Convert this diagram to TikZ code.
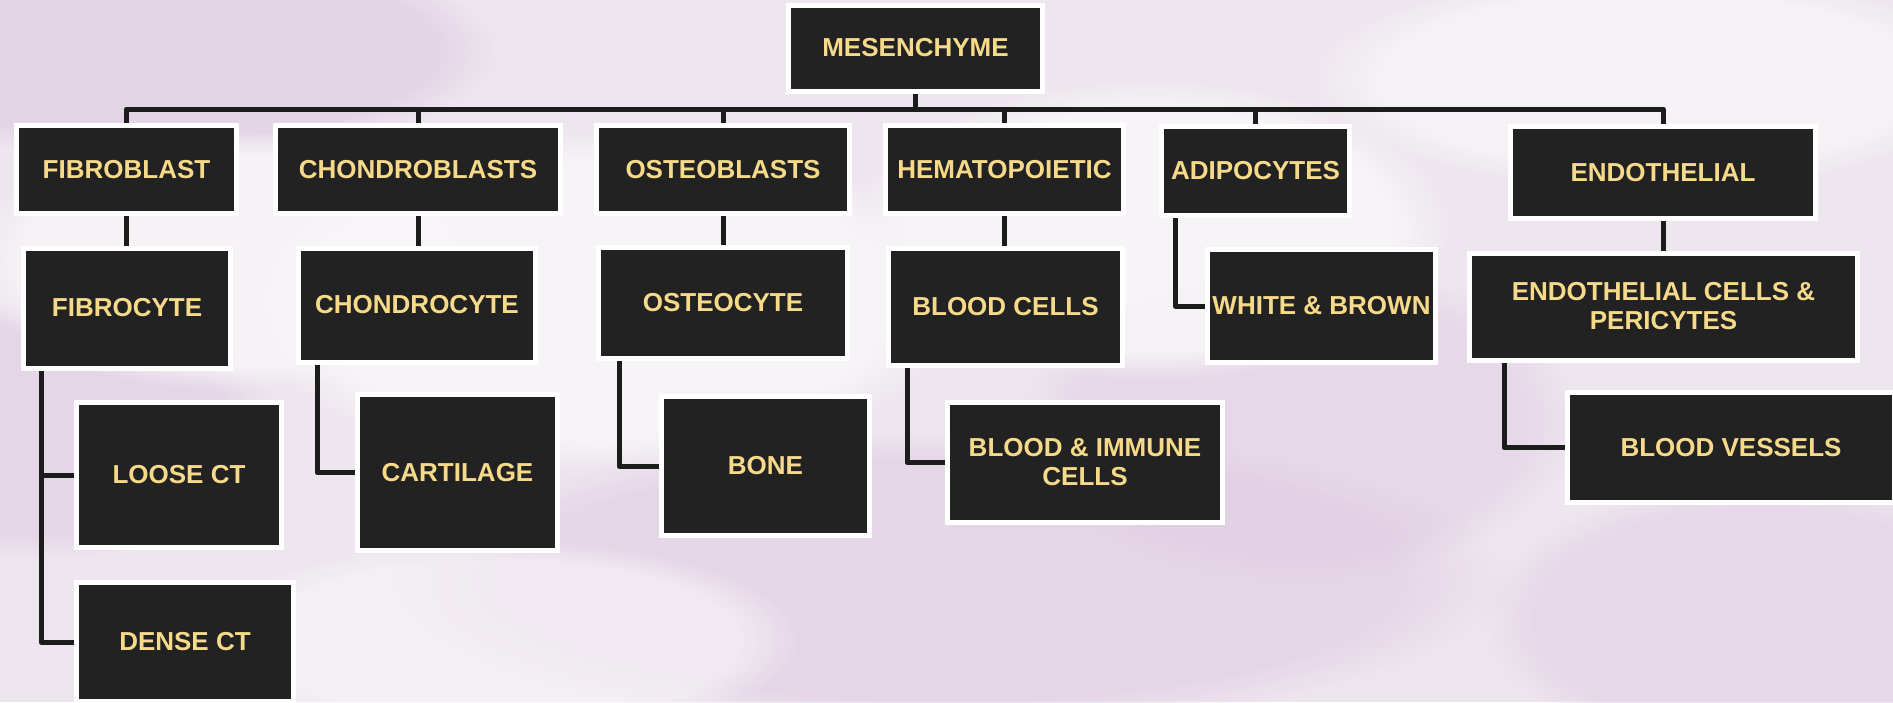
\documentclass[tikz,border=0pt]{standalone}
\usepackage{fontspec}
\setsansfont{Liberation Sans}
\usetikzlibrary{positioning, fadings}
\definecolor{CellDark}{RGB}{34,34,34}
\definecolor{CellGold}{RGB}{246,218,138}
\definecolor{LinkDark}{RGB}{28,28,28}
\definecolor{BgLilac}{RGB}{238,230,239}
\definecolor{BgMauve}{RGB}{221,200,224}
\definecolor{BgPale}{RGB}{248,246,248}
\pgfdeclarelayer{bg}
\pgfsetlayers{bg,main}

\begin{document}
\begin{tikzpicture}[x=1pt, y=-1pt,
          cell/.style={rectangle, draw=white, line width=5pt, fill=CellDark,
                       text=CellGold, inner sep=2pt, align=center,
                       font=\sffamily\bfseries\fontsize{26}{29}\selectfont},
          link/.style={draw=LinkDark, line width=5pt, line join=round},
          blob/.style={path fading=circle with fuzzy edge 20 percent}
        ]
        \useasboundingbox (0,0) rectangle (1893,702);

        % Root
        \node[cell, minimum width=254pt, minimum height=86pt]
              (mes) at (915.5,48) {MESENCHYME};

        % Progenitors
        \node[cell, minimum width=220pt, minimum height=88pt] (fib)  at (126.5,169.5) {FIBROBLAST};
        \node[cell, minimum width=285pt, minimum height=88pt] (chb)  at (418,169.5)   {CHONDROBLASTS};
        \node[cell, minimum width=253pt, minimum height=88pt] (ost)  at (723,169.5)   {OSTEOBLASTS};
        \node[cell, minimum width=238pt, minimum height=88pt] (hem)  at (1004.5,169.5){HEMATOPOIETIC};
        \node[cell, minimum width=188pt, minimum height=89pt] (adi)  at (1255.5,171)  {ADIPOCYTES};
        \node[cell, minimum width=305pt, minimum height=92pt] (endo) at (1663,172.5)  {ENDOTHELIAL};

        % Mature cells
        \node[cell, minimum width=207pt, minimum height=120pt] (fcy) at (127,308)    {FIBROCYTE};
        \node[cell, minimum width=237pt, minimum height=114pt] (ccy) at (417,305)    {CHONDROCYTE};
        \node[cell, minimum width=249pt, minimum height=111pt] (ocy) at (723,303)    {OSTEOCYTE};
        \node[cell, minimum width=234pt, minimum height=117pt] (bcl) at (1005.5,307) {BLOOD CELLS};
        \node[cell, minimum width=228pt, minimum height=113pt] (wab) at (1321.5,306) {WHITE \& BROWN};
        \node[cell, minimum width=388pt, minimum height=107pt] (ecp) at (1663.5,306.5)
              {ENDOTHELIAL CELLS \&\\PERICYTES};

        % Tissues
        \node[cell, minimum width=205pt, minimum height=145pt] (lct) at (179,475)    {LOOSE CT};
        \node[cell, minimum width=217pt, minimum height=119pt] (dct) at (185,642)    {DENSE CT};
        \node[cell, minimum width=200pt, minimum height=156pt] (car) at (457.5,472.5){CARTILAGE};
        \node[cell, minimum width=208pt, minimum height=139pt] (bon) at (765.5,466)  {BONE};
        \node[cell, minimum width=275pt, minimum height=120pt] (bic) at (1085,462.5)
              {BLOOD \& IMMUNE\\CELLS};
        \node[cell, minimum width=327pt, minimum height=110pt] (bve) at (1731,447.5) {BLOOD VESSELS};

        \begin{pgfonlayer}{bg}
          % tissue backdrop
          \fill[BgLilac] (0,0) rectangle (1893,702);
          \fill[BgMauve, blob, opacity=.6] (160,50) ellipse [x radius=340pt, y radius=110pt];
          \fill[BgMauve, blob, opacity=.5] (40,430) ellipse [x radius=240pt, y radius=130pt];
          \fill[BgMauve, blob, opacity=.5] (950,580) ellipse [x radius=560pt, y radius=150pt];
          \fill[BgMauve, blob, opacity=.45] (1300,420) ellipse [x radius=280pt, y radius=160pt];
          \fill[BgMauve, blob, opacity=.45] (1760,620) ellipse [x radius=280pt, y radius=140pt];
          \fill[BgPale, blob, opacity=.9] (600,300) ellipse [x radius=360pt, y radius=170pt];
          \fill[BgPale, blob, opacity=.9] (1150,230) ellipse [x radius=300pt, y radius=150pt];
          \fill[BgPale, blob, opacity=.8] (230,260) ellipse [x radius=260pt, y radius=130pt];
          \fill[BgPale, blob, opacity=.7] (1650,80) ellipse [x radius=340pt, y radius=110pt];
          \fill[BgPale, blob, opacity=.6] (500,640) ellipse [x radius=300pt, y radius=100pt];

          % connectors
          \coordinate (bus) at (915.5,109);
          \draw[link] (mes) -- (bus);
          \draw[link] (fib) |- (bus) -| (endo);
          \foreach \n in {chb, ost, hem, adi}
            \draw[link] (\n) -- (\n |- bus);

          \draw[link] (fib)  -- (fib |- fcy);
          \draw[link] (chb)  -- (chb |- ccy);
          \draw[link] (ost)  -- (ost |- ocy);
          \draw[link] (hem)  -- (hem |- bcl);
          \draw[link] (endo) -- (endo |- ecp);
          \draw[link] ([xshift=16pt]adi.south west) |- (wab);

          \draw[link] ([xshift=20pt]fcy.south west) |- (dct);
          \draw[link] ([xshift=20pt]fcy.south west) |- (lct);
          \draw[link] ([xshift=21pt]ccy.south west) |- (car);
          \draw[link] ([xshift=23pt]ocy.south west) |- (bon);
          \draw[link] ([xshift=21pt]bcl.south west) |- (bic);
          \draw[link] ([xshift=37pt]ecp.south west) |- (bve);
        \end{pgfonlayer}
      \end{tikzpicture}
\end{document}
